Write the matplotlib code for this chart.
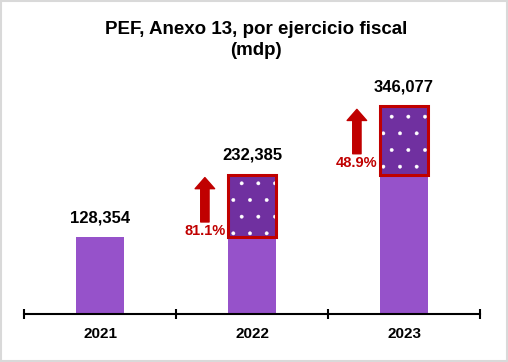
import matplotlib
matplotlib.use('agg')
import matplotlib.pyplot as plt
from matplotlib.patches import Rectangle

plt.rcParams['font.family'] = ['Liberation Sans', 'DejaVu Sans']
plt.rcParams['hatch.linewidth'] = 0.3

years = ['2021', '2022', '2023']
totals = [128354, 232385, 346077]
growth = ['', '81.1%', '48.9%']

base_color = '#9652CA'
top_color = '#7030A0'
red = '#C00000'


def main():
    fig = plt.figure(figsize=(5.08, 3.62), dpi=100)
    ax = fig.add_axes([24 / 508, 48 / 362, 456 / 508, 254 / 362])

    x = list(range(len(years)))
    width = 0.32
    prev = [0] + totals[:-1]

    # base part (previous year's total), and the increase on top of it
    for i, val in enumerate(totals):
        if i == 0:
            ax.bar(i, val, width, color=base_color, linewidth=0)
            continue
        ax.bar(i, prev[i], width, color=base_color, linewidth=0)
        ax.bar(i, val - prev[i], width, bottom=prev[i], color=top_color,
               edgecolor='white', hatch='.', linewidth=0)
        ax.bar(i, val - prev[i], width, bottom=prev[i], fill=False,
               edgecolor=red, linewidth=2.2)

        # growth arrow and percentage
        ax_x = i - 0.31
        top = val - 5000
        bottom = top - 74000
        ax.annotate('', xy=(ax_x, top), xytext=(ax_x, bottom),
                    arrowprops=dict(arrowstyle='simple,head_length=0.4,head_width=0.7,tail_width=0.3',
                                    mutation_scale=20, color=red, shrinkA=0, shrinkB=0),
                    annotation_clip=False)
        ax.text(ax_x, bottom - 15000, growth[i], color=red, fontsize=10.5,
                fontweight='bold', ha='center', va='center')

    for i, val in enumerate(totals):
        ax.annotate('{:,}'.format(val), (i, val), xytext=(0, 14),
                    textcoords='offset points', ha='center', va='center',
                    fontsize=12, fontweight='bold')

    ax.set_xlim(-0.5, 2.5)
    ax.set_ylim(0, 423333)
    for s in ['top', 'left', 'right']:
        ax.spines[s].set_visible(False)
    ax.spines['bottom'].set_linewidth(1.5)
    ax.set_yticks([])
    ax.set_xticks([-0.5, 0.5, 1.5, 2.5])
    ax.set_xticklabels([])
    ax.tick_params(axis='x', which='major', direction='inout', length=7, width=1.5)
    ax.set_xticks(x, minor=True)
    ax.set_xticklabels(years, minor=True, fontsize=11, fontweight='bold')
    ax.tick_params(axis='x', which='minor', length=0, pad=9)
    ax.patch.set_visible(False)

    fig.text(0.504, 1 - 40 / 362, 'PEF, Anexo 13, por ejercicio fiscal\n(mdp)',
             ha='center', va='center', fontsize=13.5, fontweight='bold',
             linespacing=1.3)

    fig.patches.append(Rectangle((0.002, 0.003), 0.996, 0.994, transform=fig.transFigure,
                                 fill=False, edgecolor='#D9D9D9', linewidth=1.5))

    fig.savefig('out.png', dpi=100)


if __name__ == '__main__':
    main()
